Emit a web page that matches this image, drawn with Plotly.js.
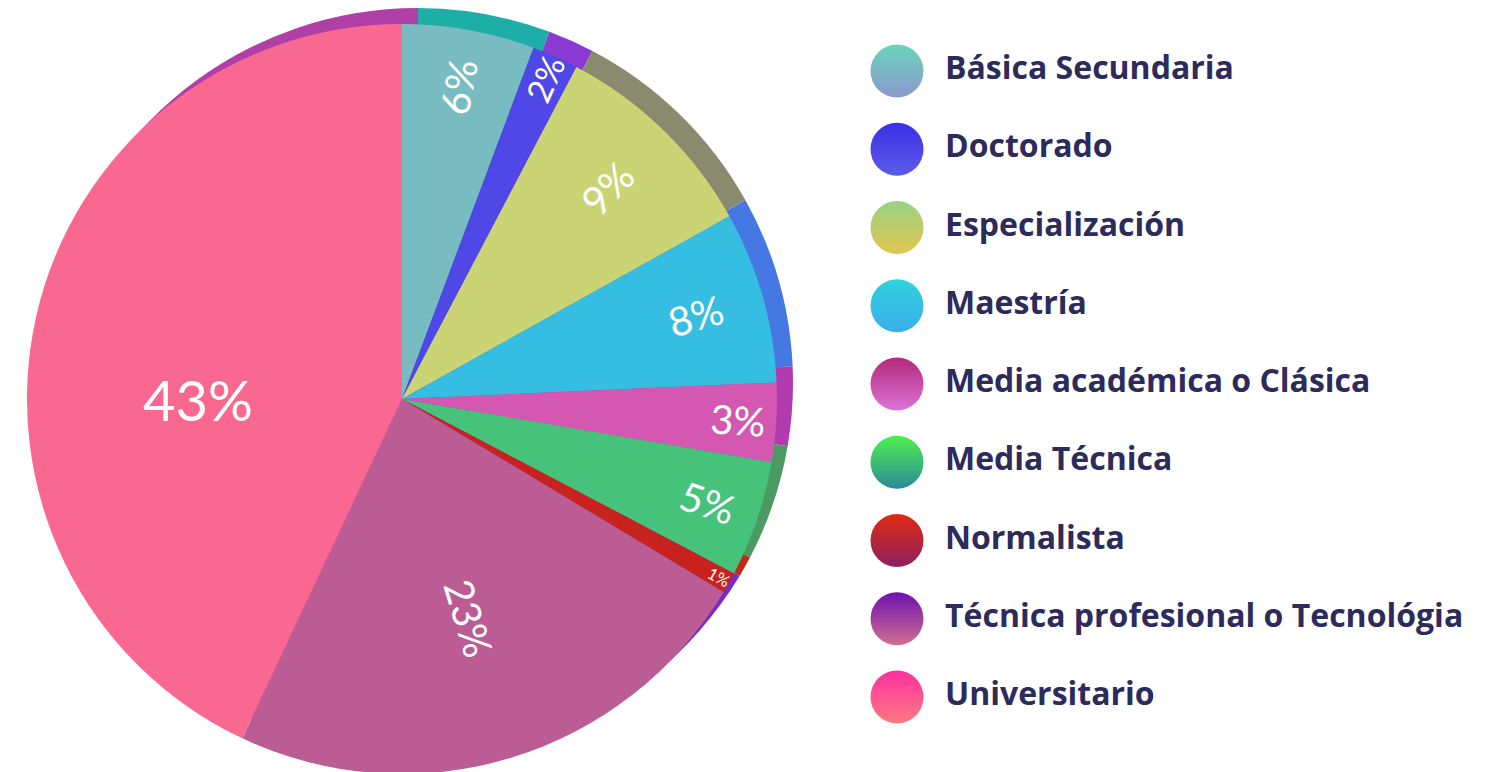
<!DOCTYPE html>
<html>
<head>
<meta charset="utf-8">
<script src="https://cdn.plot.ly/plotly-3.0.1.min.js"></script>
<style>
  html, body { margin: 0; padding: 0; background: #ffffff; overflow: hidden; }
  #chart { width: 1509px; height: 790px; }
</style>
</head>
<body>
<div id="chart"></div>
<script>
// ---- data ----
const categories = [
  "Básica Secundaria",
  "Doctorado",
  "Especialización",
  "Maestría",
  "Media académica o Clásica",
  "Media Técnica",
  "Normalista",
  "Técnica profesional o Tecnológia",
  "Universitario"
];
const shares = [5.7, 2.0, 9.2, 7.4, 3.4, 5.0, 0.9, 23.4, 43.0];
const shareLabels = ["6%", "2%", "9%", "8%", "3%", "5%", "1%", "23%", "43%"];

// ---- styles ----
const sliceColors = ["#78bcc2", "#5048e6", "#cad474", "#36bde2", "#d458b2", "#46c27a", "#c8221c", "#bc5c94", "#f86890"];
const rimColors   = ["#1eaea8", "#8a3ad2", "#8a8a6e", "#4678e4", "#b03aae", "#4a9a62", "#c02a18", "#7c2ac6", "#b040a8"];
const legendTop   = ["#6ad4b8", "#3a30e6", "#98d282", "#30d2e0", "#b02a7a", "#50f050", "#e02a10", "#7010b0", "#ff30a0"];
const legendBot   = ["#8c98d0", "#5c5ce8", "#e2c650", "#3aaee8", "#e072d8", "#2a8a98", "#8e2062", "#d07090", "#ff7a82"];
const labelSizes  = [40, 40, 40, 40, 40, 40, 40, 40, 56];

const H = 790, W = 1509;

const rim = {
  type: "pie",
  values: shares,
  labels: categories,
  sort: false,
  direction: "clockwise",
  rotation: 0,
  marker: { colors: rimColors, line: { width: 0 } },
  textinfo: "none",
  hoverinfo: "skip",
  showlegend: false,
  domain: { x: [43 / W, 793 / W], y: [(H - 758) / H, (H - 8) / H] }
};

const pie = {
  type: "pie",
  values: shares,
  labels: categories,
  text: shareLabels,
  sort: false,
  direction: "clockwise",
  rotation: 0,
  marker: { colors: sliceColors, line: { width: 0 } },
  textinfo: "text",
  textposition: "inside",
  insidetextorientation: "radial",
  insidetextfont: { color: "#ffffff", family: "Lato, 'Open Sans', sans-serif", size: labelSizes },
  hoverinfo: "skip",
  showlegend: false,
  domain: { x: [27 / W, 777 / W], y: [(H - 774) / H, (H - 24) / H] }
};

const legendDots = {
  type: "scatter",
  mode: "markers",
  x: categories.map(() => 0),
  y: categories,
  xaxis: "x",
  yaxis: "y",
  cliponaxis: false,
  marker: {
    size: 53,
    symbol: "circle",
    color: legendTop,
    gradient: { type: "vertical", color: legendBot },
    line: { width: 0 }
  },
  hoverinfo: "skip",
  showlegend: false
};

const legendText = {
  type: "scatter",
  mode: "text",
  x: categories.map(() => 0),
  y: categories,
  text: categories,
  xaxis: "x2",
  yaxis: "y",
  cliponaxis: false,
  textposition: "middle right",
  textfont: { family: "'Open Sans', Lato, sans-serif", size: 32, color: "#2c2b5c", weight: 700 },
  hoverinfo: "skip",
  showlegend: false
};

const hiddenAxis = { visible: false, showgrid: false, zeroline: false, fixedrange: true };

const layout = {
  width: W,
  height: H,
  margin: { l: 0, r: 0, t: 0, b: 0, pad: 0 },
  paper_bgcolor: "#ffffff",
  plot_bgcolor: "rgba(0,0,0,0)",
  showlegend: false,
  xaxis: Object.assign({}, hiddenAxis, { domain: [897 / W, 1], range: [0, 1] }),
  xaxis2: Object.assign({}, hiddenAxis, { domain: [945 / W, 1], range: [0, 1], anchor: "y" }),
  yaxis: Object.assign({}, hiddenAxis, {
    domain: [(H - 697) / H, (H - 71) / H],
    type: "category",
    categoryorder: "array",
    categoryarray: categories,
    range: [categories.length - 1, 0]
  })
};

Plotly.newPlot("chart", [rim, pie, legendDots, legendText], layout, { staticPlot: true, displayModeBar: false });
</script>
</body>
</html>
